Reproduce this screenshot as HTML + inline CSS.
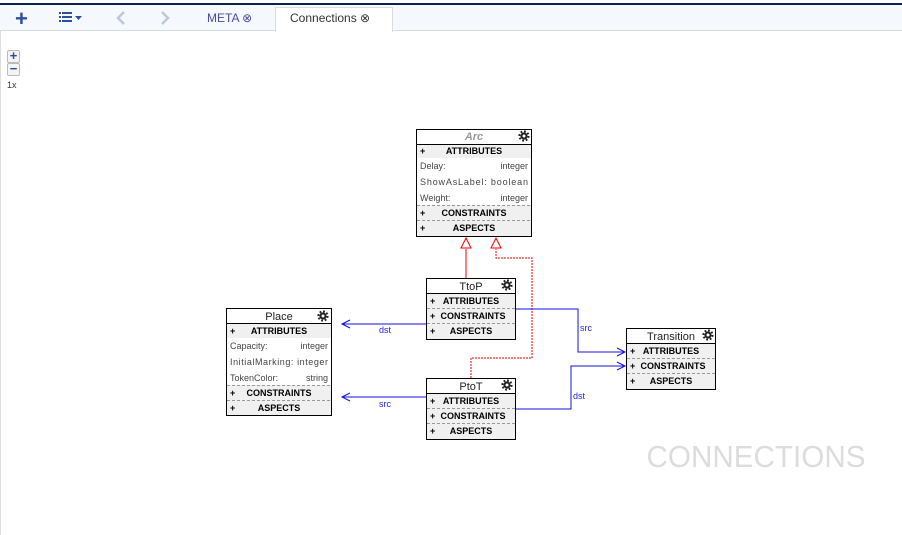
<!DOCTYPE html>
<html><head><meta charset="utf-8"><style>
body{margin:0;width:902px;height:535px;overflow:hidden;background:#fff;font-family:"Liberation Sans",Arial,sans-serif;position:relative}
.top{position:absolute;left:0;top:3px;width:902px;height:2px;background:#0c1f4f}
.bar{position:absolute;left:0;top:5px;width:902px;height:25px;background:#f5f8fd;border-bottom:1px solid #d8dbe0}
.tab{position:absolute;top:7px;height:24px;background:#fff;border:1px solid #d8dbe0;border-bottom:none;left:275px;width:116px}
.t{position:absolute;font-size:12px}
.lb{position:absolute;left:0;top:30px;width:1px;height:505px;background:#ddd}
.zb{position:absolute;left:7px;width:11px;height:11px;border:1px solid #bbb;border-radius:2px;background:#f4f4f4;color:#2a4a9a;font-weight:bold;font-size:13px;line-height:10px;text-align:center}
</style></head><body>
<div class="top"></div><div class="bar"></div><div class="tab"></div>
<div class="lb"></div>
<div class="t" style="left:15px;top:6px;font-size:22px;font-weight:bold;color:#2a4f9c">+</div>
<svg style="position:absolute;left:59px;top:11px" width="30" height="14"><g fill="#2a4f9c"><rect x="0" y="1" width="2" height="2"/><rect x="3" y="1" width="10" height="2"/><rect x="0" y="5" width="2" height="2"/><rect x="3" y="5" width="10" height="2"/><rect x="0" y="9" width="2" height="2"/><rect x="3" y="9" width="10" height="2"/><path d="M16 5h7l-3.5 4z"/></g></svg>
<svg style="position:absolute;left:114px;top:11px" width="60" height="14"><g stroke="#bcc7de" stroke-width="2.5" fill="none"><path d="M10 1L4 7L10 13"/><path d="M48 1L54 7L48 13"/></g></svg>
<div class="t" style="left:207px;top:11px;color:#4a4a9a">META <span style="font-size:12px">⊗</span></div>
<div class="t" style="left:290px;top:11px;color:#333">Connections <span>⊗</span></div>
<div class="zb" style="top:50px">+</div>
<div class="zb" style="top:63px">−</div>
<div class="t" style="left:7px;top:80px;font-size:9px;color:#333">1x</div>

<svg style="position:absolute;left:0;top:0" width="902" height="535" font-family="Liberation Sans, Arial, sans-serif">
<defs>
<g id="gear"><circle r="3.6" fill="#222"/><circle r="4.6" fill="none" stroke="#222" stroke-width="2" stroke-dasharray="1.8 1.8"/><circle r="1.5" fill="#fff"/></g>
</defs>
<text x="756" y="467" font-size="31" fill="#dcdcdc" text-anchor="middle" textLength="219" lengthAdjust="spacingAndGlyphs">CONNECTIONS</text>

<g stroke="#e00" fill="none" stroke-width="1">
<path d="M466 278V249"/>
<path d="M471 378V358H532V258H496V249" stroke-dasharray="2 1"/>
<path d="M466 238L461 248H471Z" fill="#fff"/>
<path d="M496 238L491 248H501Z" fill="#fff"/>
</g>
<g stroke="#11d" fill="none" stroke-width="1">
<path d="M426 324H342M350 320L342 324L350 328"/>
<path d="M426 397H342M350 393L342 397L350 401"/>
<path d="M515 309H578V352H625M617 348L625 352L617 356"/>
<path d="M515 409H571V366H625M617 362L625 366L617 370"/>
</g>
<g font-size="9" fill="#22d">
<text x="379" y="333">dst</text><text x="379" y="407">src</text>
<text x="580" y="331">src</text><text x="573" y="399">dst</text>
</g>

<g font-size="9" fill="#000">
<rect x="416.5" y="129.5" width="115" height="107" fill="#fff" stroke="#000"/>
<text x="474" y="140" text-anchor="middle" font-style="italic" font-weight="bold" fill="#999" font-size="11">Arc</text>
<use href="#gear" x="524" y="136"/>
<rect x="417" y="144" width="114" height="14" fill="#f0f0f0"/>
<line x1="417" y1="144.5" x2="531" y2="144.5" stroke="#000"/>
<text x="420" y="154" font-weight="bold">+</text><text x="474" y="154" text-anchor="middle" font-weight="bold">ATTRIBUTES</text>
<g fill="#444"><text x="420" y="169">Delay:</text><text x="528" y="169" text-anchor="end">integer</text>
<text x="420" y="185" textLength="108">ShowAsLabel: boolean</text>
<text x="420" y="201">Weight:</text><text x="528" y="201" text-anchor="end">integer</text></g>
<rect x="417" y="205" width="114" height="31" fill="#f0f0f0"/>
<line x1="417" y1="205.5" x2="531" y2="205.5" stroke="#999" stroke-dasharray="3 2"/>
<line x1="417" y1="220.5" x2="531" y2="220.5" stroke="#999" stroke-dasharray="3 2"/>
<text x="420" y="216" font-weight="bold">+</text><text x="474" y="216" text-anchor="middle" font-weight="bold">CONSTRAINTS</text>
<text x="420" y="231" font-weight="bold">+</text><text x="474" y="231" text-anchor="middle" font-weight="bold">ASPECTS</text>
</g>

<g font-size="9" fill="#000">
<rect x="226.5" y="308.5" width="105" height="107" fill="#fff" stroke="#000"/>
<text x="279" y="320" text-anchor="middle" font-size="11" fill="#222">Place</text>
<use href="#gear" x="323" y="316"/>
<rect x="227" y="323" width="104" height="15" fill="#f0f0f0"/>
<line x1="227" y1="323.5" x2="331" y2="323.5" stroke="#000"/>
<text x="230" y="334" font-weight="bold">+</text><text x="279" y="334" text-anchor="middle" font-weight="bold">ATTRIBUTES</text>
<g fill="#444"><text x="230" y="349">Capacity:</text><text x="328" y="349" text-anchor="end">integer</text>
<text x="230" y="365" textLength="98">InitialMarking: integer</text>
<text x="230" y="381">TokenColor:</text><text x="328" y="381" text-anchor="end">string</text></g>
<rect x="227" y="385" width="104" height="30" fill="#f0f0f0"/>
<line x1="227" y1="385.5" x2="331" y2="385.5" stroke="#999" stroke-dasharray="3 2"/>
<line x1="227" y1="400.5" x2="331" y2="400.5" stroke="#999" stroke-dasharray="3 2"/>
<text x="230" y="396" font-weight="bold">+</text><text x="279" y="396" text-anchor="middle" font-weight="bold">CONSTRAINTS</text>
<text x="230" y="411" font-weight="bold">+</text><text x="279" y="411" text-anchor="middle" font-weight="bold">ASPECTS</text>
</g>

<g font-size="9" fill="#000">
<g transform="translate(426,278)">
<rect x="0.5" y="0.5" width="89" height="61" fill="#fff" stroke="#000"/>
<text x="45" y="12" text-anchor="middle" font-size="11" fill="#222">TtoP</text><use href="#gear" x="81" y="7"/>
<rect x="1" y="15" width="88" height="46" fill="#f0f0f0"/>
<line x1="1" y1="15.5" x2="89" y2="15.5" stroke="#000"/>
<line x1="1" y1="30.5" x2="89" y2="30.5" stroke="#999" stroke-dasharray="3 2"/>
<line x1="1" y1="45.5" x2="89" y2="45.5" stroke="#999" stroke-dasharray="3 2"/>
<text x="4" y="26" font-weight="bold">+</text><text x="45" y="26" text-anchor="middle" font-weight="bold">ATTRIBUTES</text>
<text x="4" y="41" font-weight="bold">+</text><text x="47" y="41" text-anchor="middle" font-weight="bold">CONSTRAINTS</text>
<text x="4" y="56" font-weight="bold">+</text><text x="45" y="56" text-anchor="middle" font-weight="bold">ASPECTS</text>
</g>
<g transform="translate(426,378)">
<rect x="0.5" y="0.5" width="89" height="61" fill="#fff" stroke="#000"/>
<text x="45" y="12" text-anchor="middle" font-size="11" fill="#222">PtoT</text><use href="#gear" x="81" y="7"/>
<rect x="1" y="15" width="88" height="46" fill="#f0f0f0"/>
<line x1="1" y1="15.5" x2="89" y2="15.5" stroke="#000"/>
<line x1="1" y1="30.5" x2="89" y2="30.5" stroke="#999" stroke-dasharray="3 2"/>
<line x1="1" y1="45.5" x2="89" y2="45.5" stroke="#999" stroke-dasharray="3 2"/>
<text x="4" y="26" font-weight="bold">+</text><text x="45" y="26" text-anchor="middle" font-weight="bold">ATTRIBUTES</text>
<text x="4" y="41" font-weight="bold">+</text><text x="47" y="41" text-anchor="middle" font-weight="bold">CONSTRAINTS</text>
<text x="4" y="56" font-weight="bold">+</text><text x="45" y="56" text-anchor="middle" font-weight="bold">ASPECTS</text>
</g>
<g transform="translate(626,328)">
<rect x="0.5" y="0.5" width="89" height="61" fill="#fff" stroke="#000"/>
<text x="45" y="12" text-anchor="middle" font-size="11" fill="#222">Transition</text><use href="#gear" x="82" y="7"/>
<rect x="1" y="15" width="88" height="46" fill="#f0f0f0"/>
<line x1="1" y1="15.5" x2="89" y2="15.5" stroke="#000"/>
<line x1="1" y1="30.5" x2="89" y2="30.5" stroke="#999" stroke-dasharray="3 2"/>
<line x1="1" y1="45.5" x2="89" y2="45.5" stroke="#999" stroke-dasharray="3 2"/>
<text x="4" y="26" font-weight="bold">+</text><text x="45" y="26" text-anchor="middle" font-weight="bold">ATTRIBUTES</text>
<text x="4" y="41" font-weight="bold">+</text><text x="47" y="41" text-anchor="middle" font-weight="bold">CONSTRAINTS</text>
<text x="4" y="56" font-weight="bold">+</text><text x="45" y="56" text-anchor="middle" font-weight="bold">ASPECTS</text>
</g>
</g>
</svg>
</body></html>
